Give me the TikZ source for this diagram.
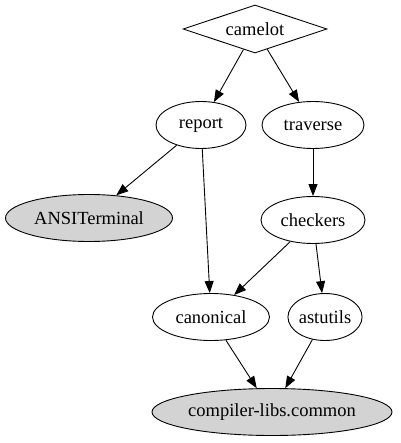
\documentclass[tikz,border=0pt]{standalone}
\usepackage{fontspec}
\setmainfont{Liberation Serif}
\usetikzlibrary{arrows.meta, shapes.geometric}
\definecolor{LibGray}{RGB}{211, 211, 211}

\begin{document}
\begin{tikzpicture}[x=1pt, y=-1pt, font=\fontsize{18.5}{20}\selectfont,
  mod/.style={draw, ellipse, line width=0.9pt, inner sep=0pt, minimum height=47pt},
  lib/.style={mod, fill=LibGray},
  top/.style={draw, diamond, aspect=3, line width=0.9pt, inner sep=0pt, minimum width=144pt, minimum height=48pt},
  ar/.style={-{Triangle[length=12pt, width=9pt]}, line width=0.9pt}]
\useasboundingbox (0,0) rectangle (400,443);
\node[top] (camelot) at (255,29) {camelot};
\node[mod, minimum width=90pt] (report) at (201,125) {report};
\node[mod, minimum width=102pt] (traverse) at (313,125) {traverse};
\node[lib, minimum width=167pt] (ansi) at (89,218) {ANSITerminal};
\node[mod, minimum width=104pt] (checkers) at (313,220) {checkers};
\node[mod, minimum width=117pt] (canonical) at (211,317) {canonical};
\node[mod, minimum width=72pt] (astutils) at (325,317) {astutils};
\node[lib, minimum width=240pt] (common) at (272,412) {compiler-libs.common};
\draw[ar] (camelot) -- (report); \draw[ar] (camelot) -- (traverse);
\draw[ar] (report) -- (ansi); \draw[ar] (report) -- (canonical);
\draw[ar] (traverse) -- (checkers);
\draw[ar] (checkers) -- (canonical); \draw[ar] (checkers) -- (astutils);
\draw[ar] (canonical) -- (common); \draw[ar] (astutils) -- (common);
\end{tikzpicture}
\end{document}
